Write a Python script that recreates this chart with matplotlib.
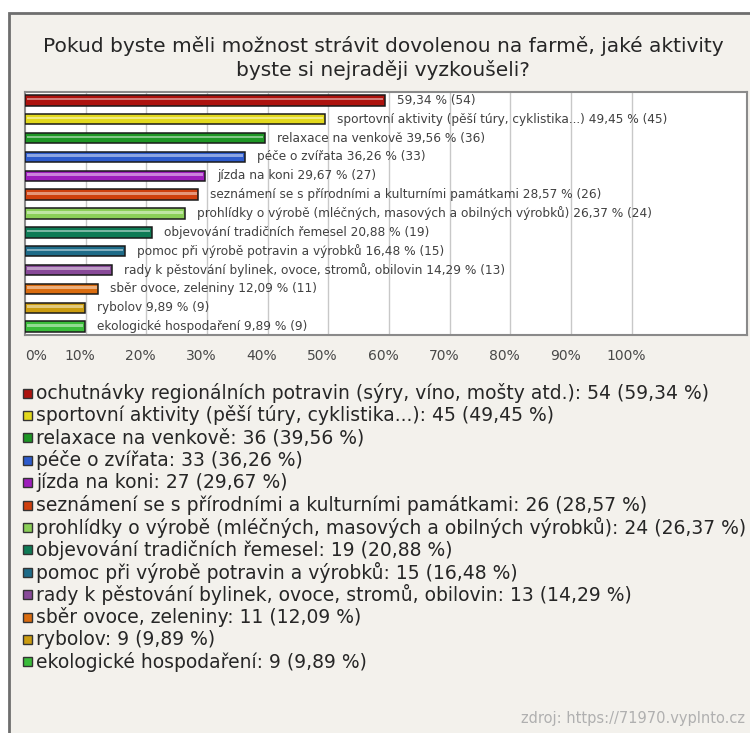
import matplotlib.pyplot as plt
import matplotlib.transforms as mtransforms
from matplotlib.patches import Rectangle

plt.rcParams['font.family'] = ['DejaVu Sans']

# answers, share of respondents (%) and counts
names = [
    'ochutnávky regionálních potravin (sýry, víno, mošty atd.)',
    'sportovní aktivity (pěší túry, cyklistika...)',
    'relaxace na venkově',
    'péče o zvířata',
    'jízda na koni',
    'seznámení se s přírodními a kulturními památkami',
    'prohlídky o výrobě (mléčných, masových a obilných výrobků)',
    'objevování tradičních řemesel',
    'pomoc při výrobě potravin a výrobků',
    'rady k pěstování bylinek, ovoce, stromů, obilovin',
    'sběr ovoce, zeleniny',
    'rybolov',
    'ekologické hospodaření',
]
percent = [59.34, 49.45, 39.56, 36.26, 29.67, 28.57, 26.37, 20.88, 16.48, 14.29, 12.09, 9.89, 9.89]
counts = [54, 45, 36, 33, 27, 26, 24, 19, 15, 13, 11, 9, 9]
# the longest answer is not repeated next to its bar
bar_names = [''] + names[1:]
colors = ['#ad130e', '#e2d81c', '#1d9624', '#2d5bcc', '#9e1ebc', '#cf400e', '#8bcf58',
          '#0e7b55', '#1e6b88', '#884a98', '#da6c0f', '#cb9c0f', '#3abc3a']
ticks = [0, 10, 20, 30, 40, 50, 60, 70, 80, 90, 100]


def cz(v):
    return f'{v:.2f}'.replace('.', ',')


def lighten(c, f):
    r, g, b = [int(c[i:i + 2], 16) / 255 for i in (1, 3, 5)]
    return (r + (1 - r) * f, g + (1 - g) * f, b + (1 - b) * f)


W, H = 750, 733
fig = plt.figure(figsize=(W / 100, H / 100), dpi=100, facecolor='white')

# panel frame (only top and left edges fall inside the image)
fig.patches.append(Rectangle((9 / W, -0.05), 1.1, 1 - 13 / H + 0.05, transform=fig.transFigure,
                             facecolor='#f3f1ec', edgecolor='#6e6e6e', linewidth=2, zorder=-5))

fig.text(383 / W, 1 - 46 / H, 'Pokud byste měli možnost strávit dovolenou na farmě, jaké aktivity',
         ha='center', va='center', fontsize=14.5, color='#262626')
fig.text(383 / W, 1 - 70 / H, 'byste si nejraději vyzkoušeli?',
         ha='center', va='center', fontsize=14.5, color='#262626')

ax = fig.add_axes([25 / W, 1 - 335 / H, 722 / W, 243 / H])
ax.set_facecolor('white')
y = list(range(len(percent)))
ax.barh(y, percent, height=0.55, color=colors, edgecolor='#1a1a1a', linewidth=1.1, zorder=3)
# glossy highlight stripe on each bar
ax.barh([v - 0.07 for v in y], [p - 0.6 for p in percent], left=0.3, height=0.14,
        color=[lighten(c, 0.45) for c in colors], linewidth=0, zorder=4)

for i, (n, p, c) in enumerate(zip(bar_names, percent, counts)):
    label = f'{n} {cz(p)} % ({c})'.strip()
    ax.text(p + 2, i, label, va='center', ha='left', fontsize=8.7, color='#404040', zorder=5)

for t in ticks[1:]:
    ax.axvline(t, color='#c8c8c8', linewidth=1, zorder=1)

ax.set_xlim(0, 119.0)
ax.set_ylim(12.45, -0.45)
ax.set_yticks([])
ax.set_xticks(ticks)
ax.set_xticklabels([f'{t}%' for t in ticks], fontsize=10, color='#484848')
ax.tick_params(axis='x', length=0, pad=10)
# tick labels sit a little left of their grid lines
shift = mtransforms.ScaledTranslation(-6 / 100, 0, fig.dpi_scale_trans)
for lab in ax.get_xticklabels()[1:]:
    lab.set_transform(lab.get_transform() + shift)
ax.get_xticklabels()[0].set_horizontalalignment('left')
for s in ax.spines.values():
    s.set_color('#8a8a8a')
    s.set_linewidth(1.5)

# legend with counts and shares
for i, (n, p, c, col) in enumerate(zip(names, percent, counts, colors)):
    yy = 1 - (393 + i * 22.4) / H
    fig.patches.append(Rectangle((23 / W, yy - 4.5 / H), 9 / W, 9 / H, transform=fig.transFigure,
                                 facecolor=col, edgecolor='#333333', linewidth=1, zorder=3))
    fig.text(36 / W, yy, f'{n}: {c} ({cz(p)} %)', va='center', ha='left',
             fontsize=13.5, color='#262626')

fig.text(745 / W, 1 - 718 / H, 'zdroj: https://71970.vyplnto.cz', ha='right', va='center',
         fontsize=10.5, color='#b0b0b0')

fig.savefig('out.png', dpi=100, facecolor=fig.get_facecolor())
